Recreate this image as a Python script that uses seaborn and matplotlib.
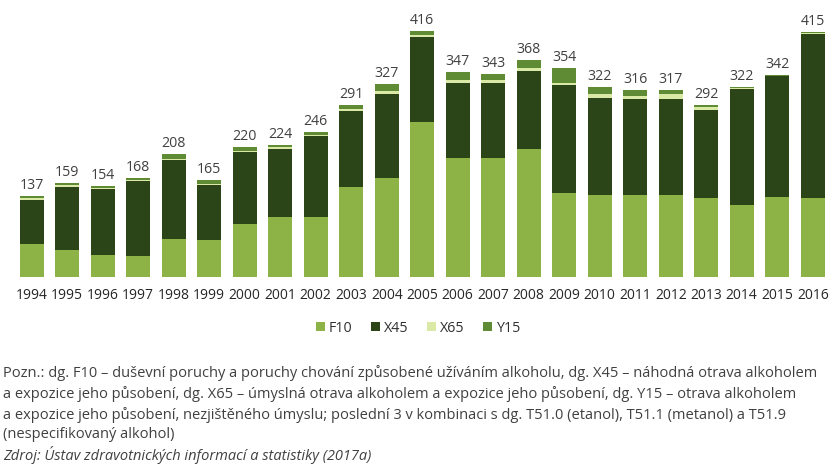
import matplotlib
matplotlib.use("Agg")
import matplotlib.pyplot as plt
import seaborn as sns
import pandas as pd
import numpy as np
from matplotlib.patches import Patch

years = [str(y) for y in range(1994, 2017)]
f10 = [56, 45, 37, 36, 64, 62, 89, 101, 102, 153, 167, 262, 201, 201, 216, 143, 139, 138, 138, 133, 122, 136, 134]
x45 = [75, 107, 112, 126, 134, 93, 123, 115, 136, 128, 142, 144, 127, 127, 133, 182, 164, 164, 164, 150, 196, 205, 277]
x65 = [3, 4, 2, 3, 2, 3, 2, 4, 2, 4, 6, 3, 5, 5, 5, 4, 7, 5, 7, 5, 2, 0, 2]
y15 = [3, 3, 3, 3, 8, 7, 6, 4, 6, 6, 12, 7, 14, 10, 14, 25, 12, 9, 8, 4, 2, 1, 2]

series = ["F10", "X45", "X65", "Y15"]
colors = {"F10": "#8db347", "X45": "#2b4519", "X65": "#dbe9a6", "Y15": "#5f8b35"}

df = pd.DataFrame({"year": years, "F10": f10, "X45": x45, "X65": x65, "Y15": y15})
cum = df[series].cumsum(axis=1)

sns.set_style("white")
plt.rcParams["font.family"] = ["Open Sans", "DejaVu Sans"]

fig = plt.figure(figsize=(8.36, 4.71), dpi=100)
W, H = 836, 471
ax = fig.add_axes([14 / W, (H - 277) / H, 816.5 / W, 267 / H])

for s in reversed(series):
    sns.barplot(x=df["year"], y=cum[s], color=colors[s], width=0.68,
                saturation=1, ax=ax, linewidth=0, zorder=2)

totals = cum["Y15"].values
for i, t in enumerate(totals):
    ax.text(i, t + 5, f"{t}", ha="center", va="bottom", fontsize=10.2, color="#404040")

ax.set_xlim(-0.5, len(years) - 0.5)
ax.set_ylim(0, 452)
ax.set_xlabel("")
ax.set_ylabel("")
ax.set_yticks([])
ax.tick_params(axis="x", length=0, pad=8, labelsize=10, labelcolor="#262626")
for sp in ax.spines.values():
    sp.set_visible(False)

handles = [Patch(facecolor=colors[s], edgecolor="none") for s in series]
fig.legend(handles, series, loc="center", bbox_to_anchor=(0.5, (H - 328) / H), ncol=4,
           frameon=False, fontsize=10.3, handlelength=0.6, handleheight=0.6,
           handletextpad=0.3, columnspacing=1.3, labelcolor="#303030")

note = ["Pozn.: dg. F10 – duševní poruchy a poruchy chování způsobené užíváním alkoholu, dg. X45 – náhodná otrava alkoholem",
        "a expozice jeho působení, dg. X65 – úmyslná otrava alkoholem a expozice jeho působení, dg. Y15 – otrava alkoholem",
        "a expozice jeho působení, nezjištěného úmyslu; poslední 3 v kombinaci s dg. T51.0 (etanol), T51.1 (metanol) a T51.9",
        "(nespecifikovaný alkohol)"]
ys = [373, 394, 415, 435]
for line, y in zip(note, ys):
    fig.text(3 / W, (H - y) / H, line, ha="left", va="center", fontsize=10.55, color="#404040")
fig.text(3 / W, (H - 455) / H, "Zdroj: Ústav zdravotnických informací a statistiky (2017a)",
         ha="left", va="center", fontsize=10.55, color="#404040", style="italic")

fig.savefig("out.png", dpi=100)
